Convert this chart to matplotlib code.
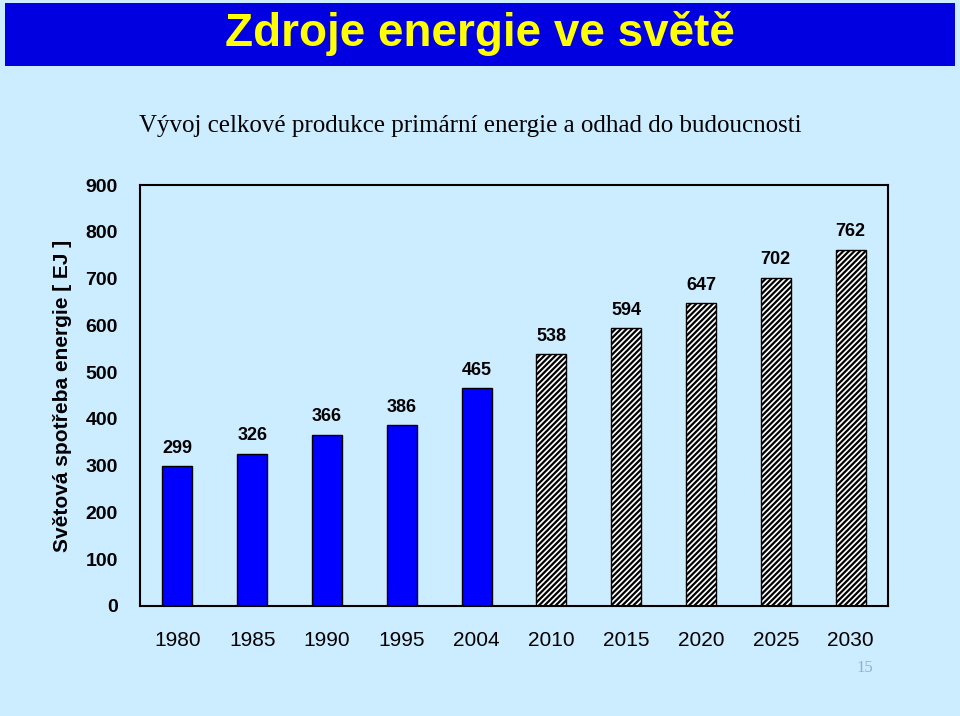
import matplotlib
matplotlib.use("Agg")
import matplotlib.pyplot as plt
from matplotlib.patches import Rectangle

years = ["1980", "1985", "1990", "1995", "2004", "2010", "2015", "2020", "2025", "2030"]
values = [299, 326, 366, 386, 465, 538, 594, 647, 702, 762]
forecast = [False, False, False, False, False, True, True, True, True, True]
yticks = [0, 100, 200, 300, 400, 500, 600, 700, 800, 900]

W, H = 960, 716
fig = plt.figure(figsize=(9.6, 7.16), dpi=100)
bg = "#CCECFF"
fig.patch.set_facecolor(bg)
plt.rcParams["hatch.linewidth"] = 1.6
fig.patches.append(Rectangle((5/W, 1-66/H), 950/W, 63/H, transform=fig.transFigure,
                             facecolor="#0000E0", edgecolor="none"))
fig.text(480/W, 1-33/H, "Zdroje energie ve světě", ha="center", va="center",
         color="#FFFF00", fontsize=33, fontweight="bold", family="Liberation Sans")
fig.text(470/W, 1-126/H, "Vývoj celkové produkce primární energie a odhad do budoucnosti",
         ha="center", va="center", fontsize=18, family="Liberation Serif")
fig.text(865/W, 1-668/H, "15", ha="center", va="center", fontsize=12,
         color="#8FB0D8", family="Liberation Serif")

ax = fig.add_axes([140/W, 1-606/H, 748/W, 421/H])
ax.set_facecolor(bg)
x = range(len(years))
for i, (v, f) in enumerate(zip(values, forecast)):
    if f:
        ax.bar(i, v, width=0.4, facecolor="white", edgecolor="black", hatch="//////", linewidth=1)
    else:
        ax.bar(i, v, width=0.4, facecolor="#0000FF", edgecolor="black", linewidth=1)
    ax.text(i, v + 20, str(v), ha="center", va="bottom", fontsize=13, fontweight="bold",
            family="Liberation Sans")
ax.set_xlim(-0.5, len(years) - 0.5)
ax.set_ylim(0, 900)
ax.set_yticks(yticks)
ax.set_yticklabels([str(t) for t in yticks], fontsize=14, fontweight="bold", family="Liberation Sans")
ax.set_xticks(list(x))
ax.set_xticklabels(years, fontsize=15, family="Liberation Sans")
ax.tick_params(axis="both", length=0)
ax.tick_params(axis="x", pad=18)
ax.tick_params(axis="y", pad=16)
for s in ax.spines.values():
    s.set_linewidth(1.5)
ax.set_ylabel("Světová spotřeba energie [ EJ ]", fontsize=15, fontweight="bold",
              family="Liberation Sans", labelpad=10)
fig.savefig("out.png", dpi=100, facecolor=fig.get_facecolor())
